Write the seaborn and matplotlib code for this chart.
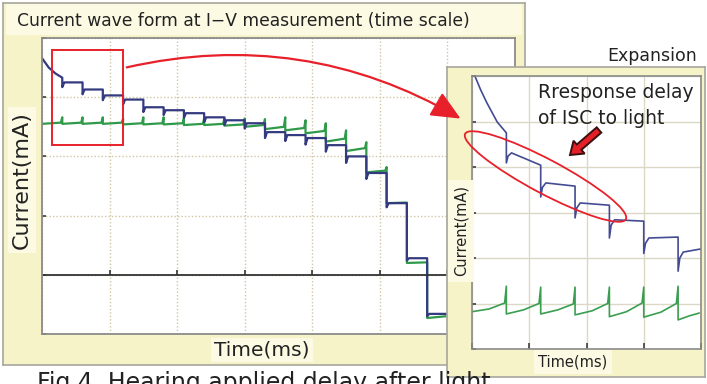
import numpy as np
import pandas as pd
import seaborn as sns
import matplotlib.pyplot as plt
from matplotlib.patches import Rectangle, Ellipse, FancyArrow

# ---- main panel data (x, y in grid divisions; zero current sits on y=1)
main_steps = [0.3, 0.6, 0.9, 1.2, 1.5, 1.8, 2.1, 2.4, 2.7, 3.0,
              3.3, 3.6, 3.9, 4.2, 4.5, 4.8, 5.1, 5.4, 5.7]
main_end = 6.0
blue_head_t = [0.0, 0.1, 0.2, 0.3]
blue_head_y = [4.66, 4.50, 4.40, 4.33]
blue_level = [4.25, 4.13, 4.03, 3.96, 3.83, 3.78, 3.73, 3.66, 3.61, 3.56,
              3.41, 3.36, 3.31, 3.19, 3.00, 2.72, 2.21, 1.28, 0.34]
blue_dip = [4.17, 4.05, 3.95, 3.88, 3.75, 3.70, 3.65, 3.58, 3.53, 3.47,
            3.31, 3.26, 3.20, 3.08, 2.89, 2.62, 2.14, 1.24, 0.30]
green_low = [3.55, 3.55, 3.55, 3.55, 3.54, 3.54, 3.54, 3.53, 3.53, 3.52,
             3.50, 3.46, 3.44, 3.39, 3.25, 3.09, 2.73, 2.21, 1.20, 0.27]
green_high = [3.57, 3.57, 3.57, 3.57, 3.56, 3.56, 3.56, 3.55, 3.55, 3.54,
              3.53, 3.50, 3.48, 3.43, 3.30, 3.14, 2.76, 2.22, 1.21, 0.30]
green_peak = [3.66, 3.66, 3.66, 3.64, 3.66, 3.66, 3.64, 3.64, 3.64, 3.64,
              3.63, 3.66, 3.61, 3.56, 3.44, 3.24, 2.82, 2.22, 1.21]

# ---- expansion panel data (x 0-4, y 0-6 divisions)
ins_steps = [0.6, 1.2, 1.8, 2.4, 3.0, 3.6]
ins_end = 4.0
ins_head_t = [0.0, 0.05, 0.15, 0.26, 0.44, 0.6]
ins_head_y = [6.4, 6.0, 5.7, 5.41, 4.99, 4.75]
ins_blue_dip = [4.09, 3.34, 2.88, 2.44, 2.10, 1.71]
ins_blue_mid = [4.24, 3.55, 3.10, 2.72, 2.32, 2.00]
ins_blue_top = [4.31, 3.65, 3.21, 2.84, 2.44, 2.13]
ins_blue_end = [4.04, 3.58, 3.16, 2.81, 2.46, 2.20]
ins_green_low = [0.82, 0.77, 0.77, 0.75, 0.71, 0.70, 0.64]
ins_green_mid = [0.88, 0.86, 0.86, 0.84, 0.82, 0.81, 0.73]
ins_green_pre = [1.01, 1.00, 0.99, 1.00, 1.01, 1.00, 0.79]
ins_green_peak = [1.38, 1.36, 1.36, 1.36, 1.36, 1.38]

W, H = 707, 384


def fx(x):
    return x / W


def fy(y):
    return 1 - y / H


def box(x0, y0, x1, y1):
    return [fx(x0), fy(y1), (x1 - x0) / W, (y1 - y0) / H]


def blue_trace(head_t, head_y, steps, dip, mid, top, end_y, end):
    t, y = list(head_t), list(head_y)
    nxt = steps[1:] + [end]
    for s, d, m, tp, e, n in zip(steps, dip, mid, top, end_y, nxt):
        t += [s, s + 0.03, s + 0.09, n]
        y += [d, m, tp, e]
    return pd.DataFrame({"t": t, "I": y})


def green_trace(steps, low, mid, pre, peak, end):
    starts = [0.0] + steps
    t, y = [], []
    for i, s in enumerate(starts):
        n = starts[i + 1] if i + 1 < len(starts) else end
        if mid is None:
            t += [s, n - 0.02]
            y += [low[i], pre[i]]
        else:
            t += [s, (s + n) / 2, n - 0.03]
            y += [low[i], mid[i], pre[i]]
        if i < len(peak):
            t += [n]
            y += [peak[i]]
    return pd.DataFrame({"t": t, "I": y})


sns.set_theme(style="white")
plt.rcParams["font.family"] = ["DejaVu Sans"]

BLUE = "#343a80"
GREEN = "#2f9a4a"
FRAME = "#f7f3c9"
LIGHT = "#fcfae3"
EDGE = "#a7a79c"
GRID = "#cfc6a2"

fig = plt.figure(figsize=(7.07, 3.84), dpi=100)
fig.patch.set_facecolor("white")


def frame(x0, y0, x1, y1):
    a = fig.add_axes(box(x0, y0, x1, y1))
    a.set_facecolor(FRAME)
    a.set_xticks([])
    a.set_yticks([])
    for sp in a.spines.values():
        sp.set_color(EDGE)
        sp.set_linewidth(1.2)
    return a


# main frame + title band
fr = frame(3, 3, 525, 365)
fr.add_patch(Rectangle((0.005, 1 - 32 / 362), 0.99, 31 / 362, transform=fr.transAxes,
                       color=LIGHT, lw=0))

ax = fig.add_axes(box(42, 38, 515, 334))
ax.set_facecolor("white")
blue_main = blue_trace(blue_head_t, blue_head_y, main_steps, blue_dip, blue_level,
                       blue_level, blue_level, main_end)
green_main = green_trace(main_steps, green_low, None, green_high, green_peak, main_end)
sns.lineplot(data=green_main, x="t", y="I", sort=False, estimator=None,
             color=GREEN, lw=1.6, ax=ax)
sns.lineplot(data=blue_main, x="t", y="I", sort=False, estimator=None,
             color=BLUE, lw=1.6, ax=ax)
ax.set_xlim(0, 7)
ax.set_ylim(0, 5)
ax.set_xticks(range(8))
ax.set_yticks(range(6))
ax.grid(True, ls=(0, (1, 1.5)), color=GRID, lw=1)
ax.set_xticklabels([])
ax.set_yticklabels([])
ax.set_xlabel("")
ax.set_ylabel("")
ax.tick_params(axis="x", length=0)
ax.tick_params(axis="y", direction="in", length=3, color="#444", left=True)
for sp in ax.spines.values():
    sp.set_color("#8a8a8a")
    sp.set_linewidth(1.3)
ax.axhline(1, color="#333333", lw=1.3)
ax.vlines(range(1, 7), 1, 1.08, color="#333333", lw=1.2)
ax.add_patch(Rectangle((0.15, 3.2), 1.05, 1.59, fill=False, ec="#e8202a", lw=1.4, zorder=5))

fig.text(fx(17), fy(21), "Current wave form at I\u2212V measurement (time scale)",
         fontsize=12.3, va="center", ha="left", color="#222222")
fig.text(fx(22), fy(180), "Current(mA)", rotation=90, fontsize=16, ha="center", va="center",
         color="#222222", bbox=dict(fc=LIGHT, ec="none", pad=3))
fig.text(fx(262), fy(350), "Time(ms)", fontsize=14.5, ha="center", va="center",
         color="#222222", bbox=dict(fc=LIGHT, ec="none", pad=2))

# expansion frame
frame(447, 67, 705, 377)
ax2 = fig.add_axes(box(472, 76, 701, 349))
ax2.set_facecolor("white")
blue_ins = blue_trace(ins_head_t, ins_head_y, ins_steps, ins_blue_dip, ins_blue_mid,
                      ins_blue_top, ins_blue_end, ins_end)
green_ins = green_trace(ins_steps, ins_green_low, ins_green_mid, ins_green_pre,
                        ins_green_peak, ins_end)
sns.lineplot(data=green_ins, x="t", y="I", sort=False, estimator=None,
             color="#3a9e50", lw=1.2, ax=ax2)
sns.lineplot(data=blue_ins, x="t", y="I", sort=False, estimator=None,
             color="#434b92", lw=1.2, ax=ax2)
ax2.set_xlim(0, 4)
ax2.set_ylim(0, 6)
ax2.set_xticks(range(5))
ax2.set_yticks(range(7))
ax2.grid(True, ls="-", color="#dcd8c6", lw=1)
ax2.set_xticklabels([])
ax2.set_yticklabels([])
ax2.set_xlabel("")
ax2.set_ylabel("")
ax2.tick_params(axis="x", direction="in", length=4, color="#444", bottom=True)
ax2.tick_params(axis="y", direction="in", length=3, color="#444", left=True)
for sp in ax2.spines.values():
    sp.set_color("#8a8a8a")
    sp.set_linewidth(1.2)

fig.text(fx(461), fy(231), "Current(mA)", rotation=90, fontsize=10.5, ha="center",
         va="center", color="#222222", bbox=dict(fc=LIGHT, ec="none", pad=4))
fig.text(fx(573), fy(362), "Time(ms)", fontsize=10.5, ha="center", va="center",
         color="#222222", bbox=dict(fc=LIGHT, ec="none", pad=3))
fig.text(fx(697), fy(56), "Expansion", fontsize=12.5, ha="right", va="center",
         color="#222222")
fig.text(fx(538), fy(98), "Rresponse delay", fontsize=13.5, ha="left", va="baseline",
         color="#222222")
fig.text(fx(538), fy(124), "of ISC to light", fontsize=13.5, ha="left", va="baseline",
         color="#222222")

# caption: only its upper part is inside the picture, as in the reference
fig.text(fx(37), fy(371), "Fig.4  Hearing applied delay after light", fontsize=17,
         ha="left", va="top", color="#222222")

# overlay for the red call-outs, in pixel units
ov = fig.add_axes([0, 0, 1, 1])
ov.set_xlim(0, W)
ov.set_ylim(H, 0)
ov.axis("off")
ov.patch.set_alpha(0)
ov.annotate("", xy=(463, 120), xytext=(124, 68),
            arrowprops=dict(arrowstyle="-|>,head_length=1.0,head_width=0.45",
                            connectionstyle="arc3,rad=-0.2", color="#e8202a",
                            lw=1.6, mutation_scale=18))
ov.add_patch(Ellipse((545.5, 176.5), 182, 34, angle=28, fill=False, ec="#e8202a", lw=1.3))
ov.add_patch(FancyArrow(599, 130, -29, 25, width=7, head_width=17, head_length=12,
                        length_includes_head=True, fc="#e61e25", ec="#3a1010", lw=1.4))

fig.savefig("out.png", dpi=100)
